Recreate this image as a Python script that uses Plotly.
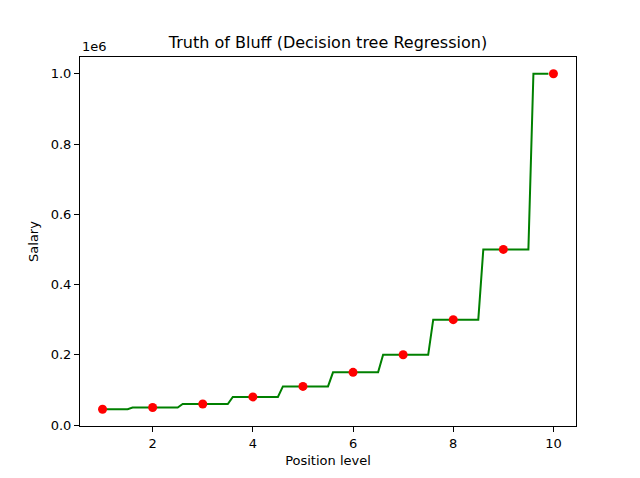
import plotly.graph_objects as go

# position levels and salaries
level = [1, 2, 3, 4, 5, 6, 7, 8, 9, 10]
salary = [45000, 50000, 60000, 80000, 110000, 150000, 200000, 300000, 500000, 1000000]

# decision tree prediction on the 0.1 grid (corners of the step line)
grid_x = [1.0, 1.5, 1.6, 2.5, 2.6, 3.5, 3.6, 4.5, 4.6, 5.5, 5.6, 6.5, 6.6,
          7.5, 7.6, 8.5, 8.6, 9.5, 9.6, 9.9]
grid_y = [45000, 45000, 50000, 50000, 60000, 60000, 80000, 80000, 110000, 110000,
          150000, 150000, 200000, 200000, 300000, 300000, 500000, 500000,
          1000000, 1000000]

xticks = [2, 4, 6, 8, 10]
yticks = [0, 200000, 400000, 600000, 800000, 1000000]
yticklabels = ["0.0", "0.2", "0.4", "0.6", "0.8", "1.0"]

fig = go.Figure()
fig.add_trace(go.Scatter(x=grid_x, y=grid_y, mode="lines",
                         line=dict(color="green", width=2)))
fig.add_trace(go.Scatter(x=level, y=salary, mode="markers",
                         marker=dict(color="red", size=9)))

axis_style = dict(showgrid=False, zeroline=False, showline=True, mirror=True,
                  linecolor="black", linewidth=1, ticks="outside", ticklen=5,
                  tickcolor="black", tickfont=dict(size=13, color="black"))

fig.update_xaxes(range=[0.55, 10.45], tickvals=xticks,
                 title=dict(text="Position level", font=dict(size=13, color="black"), standoff=6),
                 **axis_style)
fig.update_yaxes(range=[-2750, 1047750], tickvals=yticks, ticktext=yticklabels,
                 title=dict(text="Salary", font=dict(size=13, color="black"), standoff=9),
                 **axis_style)

fig.add_annotation(text="1e6", xref="paper", yref="paper", x=0, y=1,
                   xanchor="left", yanchor="bottom", showarrow=False,
                   font=dict(size=13, color="black"), yshift=1)

# page body adds 8px, so margins are shifted to keep the matplotlib-like box
fig.update_layout(
    width=640, height=478,
    margin=dict(l=72, r=72, t=49, b=60),
    paper_bgcolor="white", plot_bgcolor="white",
    showlegend=False,
    font=dict(family="DejaVu Sans", color="black"),
    title=dict(text="Truth of Bluff (Decision tree Regression)", x=0.5, xanchor="center",
               y=1 - 40 / 478, yanchor="bottom", font=dict(size=16, color="black")),
)

fig.write_html("out.html")
